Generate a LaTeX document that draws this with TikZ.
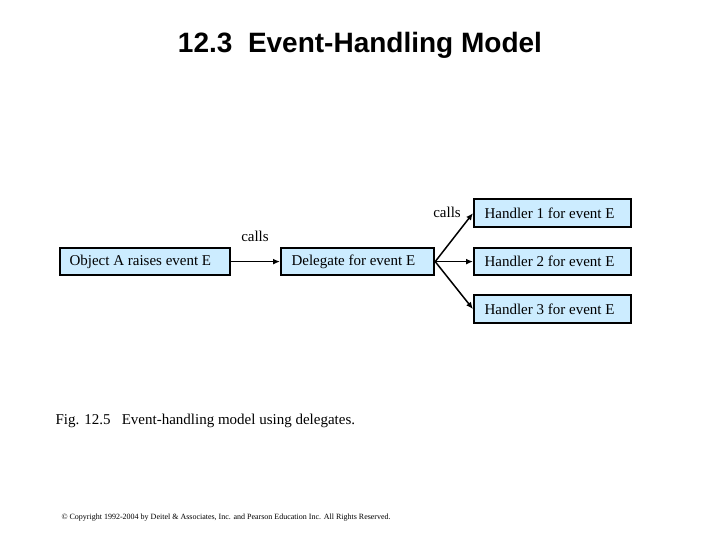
\documentclass[tikz,border=0pt]{standalone}
\usepackage{fontspec}
\setmainfont{Liberation Serif}
\newfontfamily\arial{Liberation Sans}
\usetikzlibrary{arrows.meta}
\definecolor{boxblue}{RGB}{204,236,255}
\tikzset{box/.style={draw=black,line width=2.2pt,fill=boxblue,inner sep=0pt,anchor=north west,font=\fontsize{15}{17}\selectfont},
arr/.style={-{Latex[length=7pt,width=6pt]},line width=1.5pt},
lbl/.style={font=\fontsize{15}{17}\selectfont}}
\begin{document}
\begin{tikzpicture}[x=1pt,y=-1pt]
\useasboundingbox (0,0) rectangle (720,540);
\node[font=\arial\bfseries\fontsize{28}{32}\selectfont] (title) at (360,45) {12.3\ \ Event-Handling Model};
\node[box,minimum width=170pt,minimum height=27pt] (a) at (59,247) {};
\node[box,minimum width=153pt,minimum height=27pt] (d) at (280,247) {};
\node[box,minimum width=157pt,minimum height=28pt] (h1) at (473,198) {};
\node[box,minimum width=157pt,minimum height=27pt] (h2) at (473,247) {};
\node[box,minimum width=157pt,minimum height=28pt] (h3) at (473,294) {};
\node[lbl,anchor=west] (ta) at ([xshift=7pt]a.west) {Object A raises event E};
\node[lbl,anchor=west] (td) at ([xshift=8pt]d.west) {Delegate for event E};
\node[lbl,anchor=west] (t1) at ([xshift=8pt]h1.west) {Handler 1 for event E};
\node[lbl,anchor=west] (t2) at ([xshift=8pt]h2.west) {Handler 2 for event E};
\node[lbl,anchor=west] (t3) at ([xshift=8pt]h3.west) {Handler 3 for event E};
\draw[arr] (a.east) -- (d.west);
\draw[arr] (d.east) -- (h1.west);
\draw[arr] (d.east) -- (h2.west);
\draw[arr] (d.east) -- (h3.west);
\node[lbl] (c1) at (255,236) {calls};
\node[lbl] (c2) at (447,212) {calls};
\node[lbl,anchor=west] (cap) at (52,421) {Fig. 12.5\ \ \ Event-handling model using delegates.};
\node[anchor=west,font=\fontsize{8}{9}\selectfont] (copy) at (58,518) {\textcopyright{} Copyright 1992-2004 by Deitel \& Associates, Inc. and Pearson Education Inc. All Rights Reserved.};
\end{tikzpicture}
\end{document}
